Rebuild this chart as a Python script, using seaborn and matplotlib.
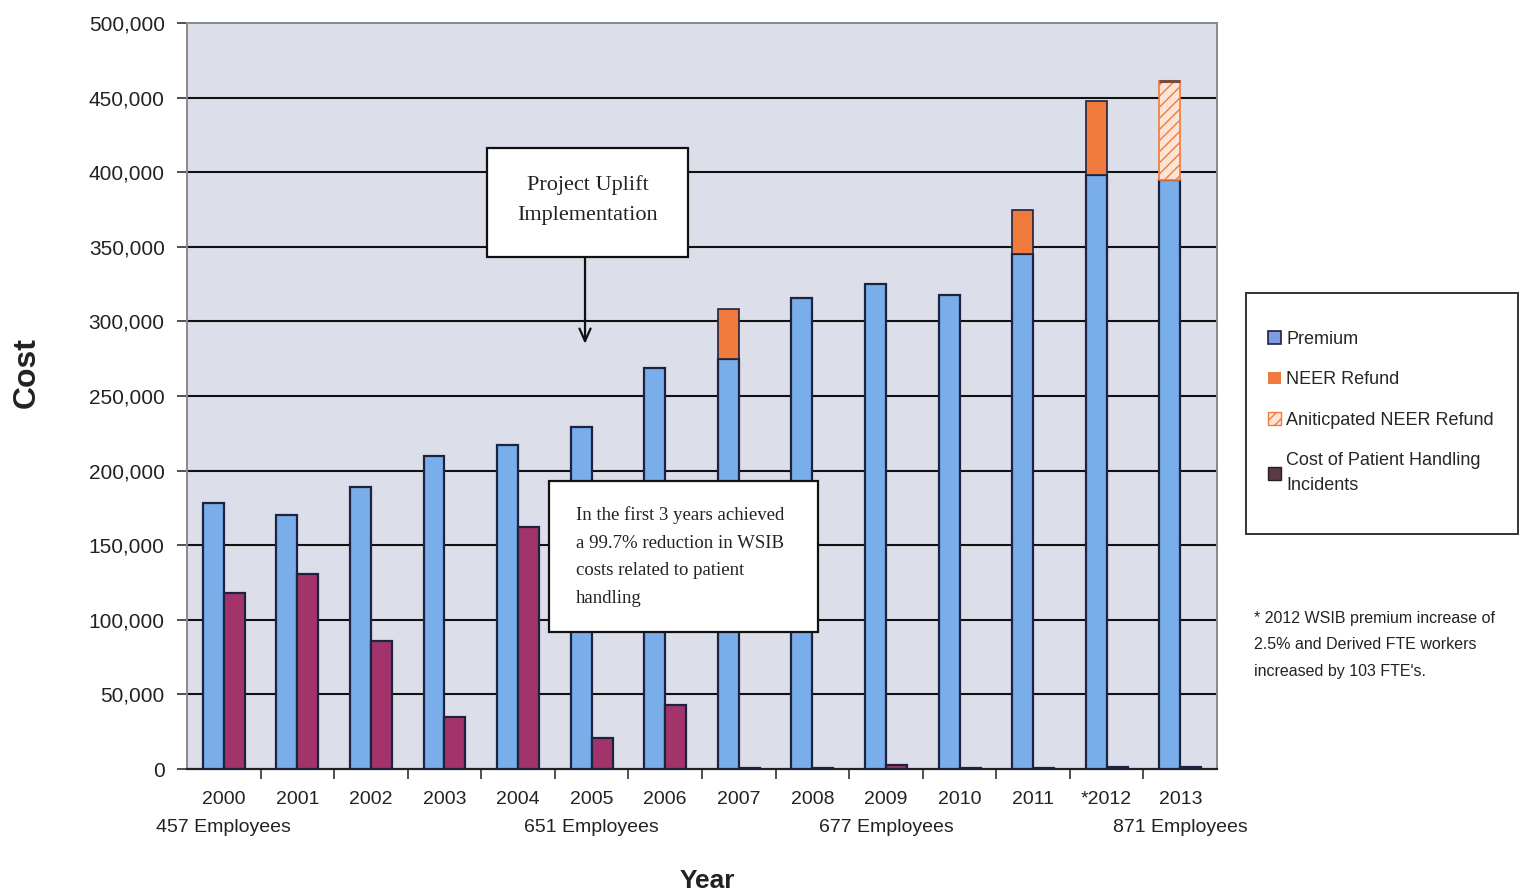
import matplotlib
matplotlib.use("Agg")
import matplotlib.pyplot as plt
from matplotlib.patches import Patch, Rectangle
from matplotlib.ticker import FuncFormatter, MultipleLocator, FixedLocator
import matplotlib.transforms as mtransforms
import numpy as np
import pandas as pd
import seaborn as sns

# ---- data -------------------------------------------------------------
years = ["2000", "2001", "2002", "2003", "2004", "2005", "2006",
         "2007", "2008", "2009", "2010", "2011", "*2012", "2013"]
premium = [178000, 170000, 189000, 210000, 217500, 229500, 269000,
           275000, 316000, 325000, 318000, 345000, 398000, 395000]
neer_refund = [0, 0, 0, 0, 0, 0, 0, 33000, 0, 0, 0, 30000, 50000, 0]
anticipated_refund = [0, 0, 0, 0, 0, 0, 0, 0, 0, 0, 0, 0, 0, 66000]
handling_cost = [118000, 131000, 86000, 35000, 162000, 21000, 43000,
                 1000, 1000, 2500, 1000, 1000, 1500, 1500]
employee_labels = {"2000": "457 Employees", "2005": "651 Employees",
                   "2009": "677 Employees", "2013": "871 Employees"}

# ---- style ------------------------------------------------------------
sns.set_style("white", {"axes.facecolor": "#dcdfe9"})
plt.rcParams["font.family"] = ["Liberation Sans", "DejaVu Sans"]

BLUE = "#7aaeea"
MAROON = "#a3346b"
ORANGE = "#f07a3c"
EDGE = "#1c2340"

fig = plt.figure(figsize=(15.2, 8.96), dpi=100)
ax = fig.add_axes([0.123, 0.1417, 0.6777, 0.8326])

df = pd.DataFrame({
    "Year": years * 2,
    "Cost": premium + handling_cost,
    "Series": ["Premium"] * len(years) + ["Cost of Patient Handling Incidents"] * len(years),
})

sns.barplot(data=df, x="Year", y="Cost", hue="Series", order=years,
            hue_order=["Premium", "Cost of Patient Handling Incidents"],
            palette=[BLUE, MAROON], saturation=1, width=0.57, errorbar=None,
            edgecolor=EDGE, linewidth=1.6, legend=False, ax=ax, zorder=3)

# premium bars are the first len(years) patches
prem_patches = ax.patches[:len(years)]
xs = np.array([p.get_x() for p in prem_patches])
ws = np.array([p.get_width() for p in prem_patches])
prem = np.array(premium, dtype=float)
refund = np.array(neer_refund, dtype=float)
antic = np.array(anticipated_refund, dtype=float)

m = refund > 0
ax.bar(xs[m], refund[m], width=ws[m], bottom=prem[m], align="edge",
       color=ORANGE, edgecolor=EDGE, linewidth=1.2, zorder=3)
m = antic > 0
ax.bar(xs[m], antic[m], width=ws[m], bottom=prem[m], align="edge",
       facecolor="#fde4d6", edgecolor=ORANGE, hatch="///", linewidth=1.2, zorder=3)
ax.hlines(prem[m] + antic[m], xs[m], xs[m] + ws[m], color="#7a4a3a", lw=2.2, zorder=4)

# ---- axes -------------------------------------------------------------
ax.set_xlim(-0.5, len(years) - 0.5)
ax.set_ylim(0, 500000)
ax.yaxis.set_major_locator(MultipleLocator(50000))
ax.yaxis.set_major_formatter(FuncFormatter(lambda v, _: f"{int(v):,}"))
for yv in range(50000, 500000, 50000):
    ax.axhline(yv, color="#111111", lw=1.5, zorder=1)

ax.tick_params(axis="y", which="major", length=7, width=1.2, color="#333333",
               direction="out", pad=9, labelsize=15, labelcolor="#222222", left=True)
ax.tick_params(axis="x", which="major", length=0, pad=16, labelsize=14,
               labelcolor="#222222")
ax.xaxis.set_minor_locator(FixedLocator(np.arange(0.5, len(years) - 0.5, 1.0)))
ax.tick_params(axis="x", which="minor", length=7, width=1.2, color="#333333",
               direction="out", bottom=True)

for side in ["left", "top", "right"]:
    ax.spines[side].set_color("#8a8a8a")
    ax.spines[side].set_linewidth(1.4)
ax.spines["bottom"].set_color("#222222")
ax.spines["bottom"].set_linewidth(1.6)

ax.set_xlabel("Year", fontsize=19, fontweight="bold", color="#222222")
ax.xaxis.set_label_coords(0.505, -0.134)
ax.set_ylabel("Cost", fontsize=23, fontweight="bold", color="#222222")
ax.yaxis.set_label_coords(-0.1405, 0.532)

# employee counts beneath selected years
trans = mtransforms.blended_transform_factory(ax.transData, ax.transAxes)
for yr, label in employee_labels.items():
    ax.text(years.index(yr), -0.079, label, transform=trans, ha="center", va="center",
            fontsize=14, color="#222222")

# ---- annotations ------------------------------------------------------
serif = ["Liberation Serif", "DejaVu Serif"]
ax.add_patch(Rectangle((3.578, 343000), 6.31 - 3.578, 416000 - 343000,
                       facecolor="white", edgecolor="#111111", lw=1.6, zorder=5))
ax.text(4.944, 381500, "Project Uplift\nImplementation", ha="center", va="center",
        fontsize=16, family=serif, color="#222222", linespacing=1.75, zorder=6)
ax.annotate("", xy=(4.91, 285000), xytext=(4.91, 343000),
            arrowprops=dict(arrowstyle="->,head_length=0.9,head_width=0.4",
                            color="#111111", lw=1.6, shrinkA=0, shrinkB=0), zorder=6)

ax.add_patch(Rectangle((4.42, 92000), 8.08 - 4.42, 193000 - 92000,
                       facecolor="white", edgecolor="#111111", lw=1.6, zorder=5))
ax.text(4.79, 176000,
        "In the first 3 years achieved\na 99.7% reduction in WSIB\ncosts related to patient\nhandling",
        ha="left", va="top", fontsize=13.5, family=serif, color="#222222",
        linespacing=1.8, zorder=6)

# ---- legend -----------------------------------------------------------
handles = [
    Patch(facecolor="#7f9ce0", edgecolor=EDGE, lw=1.2, label="Premium"),
    Patch(facecolor=ORANGE, edgecolor=ORANGE, lw=0, label="NEER Refund"),
    Patch(facecolor="#fde4d6", edgecolor=ORANGE, hatch="///", lw=1.0,
          label="Aniticpated NEER Refund"),
    Patch(facecolor="#5a3a48", edgecolor="#222222", lw=1.0,
          label="Cost of Patient Handling\nIncidents"),
]
W, H = 1520.0, 896.0
fig.patches.append(Rectangle((1246 / W, 1 - 534 / H), (1518 - 1246) / W, (534 - 293) / H,
                             transform=fig.transFigure, facecolor="white",
                             edgecolor="#333333", lw=1.4, zorder=0))
leg = fig.legend(handles=handles, loc="upper left",
                 bbox_to_anchor=(1268 / W, 1 - 331 / H),
                 frameon=False, fontsize=13, handlelength=0.7, handleheight=0.7,
                 handletextpad=0.3, borderpad=0, labelspacing=1.3, borderaxespad=0)
for t in leg.get_texts():
    t.set_linespacing(1.6)

fig.text(0.825, 0.318,
         "* 2012 WSIB premium increase of\n2.5% and Derived FTE workers\nincreased by 103 FTE's.",
         ha="left", va="top", fontsize=11.5, color="#222222", linespacing=1.95)

fig.savefig("out.png", dpi=100, facecolor="white")
